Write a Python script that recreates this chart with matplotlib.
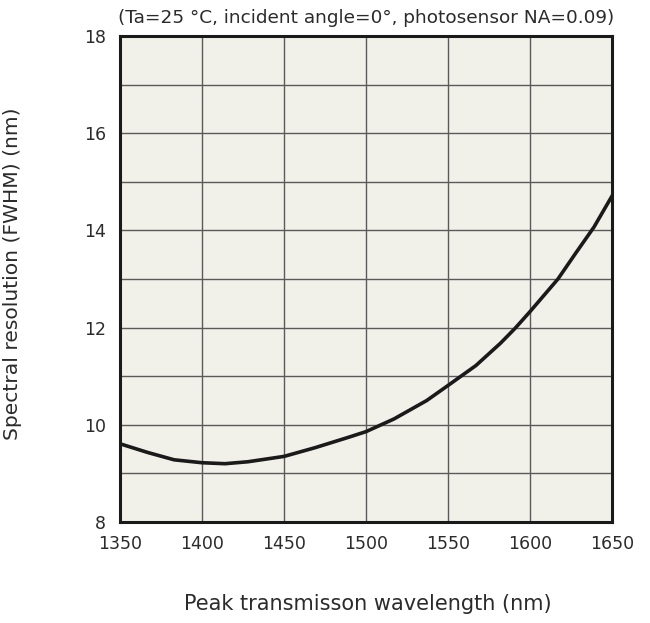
import numpy as np
import matplotlib
matplotlib.use('Agg')
import matplotlib.pyplot as plt

# Spectral resolution vs peak transmission wavelength
wavelength = [1350, 1367, 1383, 1400, 1414, 1428, 1450, 1469, 1489, 1500, 1517,
              1537, 1550, 1567, 1582, 1591, 1600, 1617, 1628, 1639, 1650]
fwhm = [9.61, 9.43, 9.28, 9.22, 9.20, 9.24, 9.35, 9.53, 9.74, 9.86, 10.12,
        10.50, 10.81, 11.22, 11.68, 11.99, 12.33, 13.00, 13.54, 14.07, 14.71]

x_ticks = [1350, 1400, 1450, 1500, 1550, 1600, 1650]
y_ticks = [8, 10, 12, 14, 16, 18]

text_col = '#2b2b2b'
plt.rcParams['font.family'] = ['DejaVu Sans']

fig = plt.figure(figsize=(6.5, 6.23), dpi=100)
ax = fig.add_axes([0.1846, 0.1621, 0.757, 0.780])
ax.set_facecolor('#f1f0e9')

ax.plot(wavelength, fwhm, color='#1a1a1a', linewidth=2.6, solid_joinstyle='round', zorder=3)

ax.set_xlim(1350, 1650)
ax.set_ylim(8, 18)
ax.set_xticks(x_ticks)
ax.set_yticks(y_ticks)
ax.set_yticks(np.arange(8, 19, 1), minor=True)
ax.grid(True, which='both', color='#5a5a5a', linewidth=1.0, zorder=1)
ax.tick_params(which='both', length=0, labelsize=12.5, labelcolor=text_col)
ax.tick_params(axis='x', pad=9)
ax.tick_params(axis='y', pad=10)

for s in ax.spines.values():
    s.set_color('#1a1a1a')
    s.set_linewidth(2.2)

fig.text(0.563, 0.971, '(Ta=25 °C, incident angle=0°, photosensor NA=0.09)', fontsize=13.3,
         color=text_col, ha='center', va='center')
ax.set_ylabel('Spectral resolution (FWHM) (nm)', fontsize=14.6, color=text_col)
ax.yaxis.set_label_coords(-0.199, 0.51)
fig.text(0.566, 0.0305, 'Peak transmisson wavelength (nm)', fontsize=15, color=text_col,
         ha='center', va='center')

fig.savefig('out.png', dpi=100)
